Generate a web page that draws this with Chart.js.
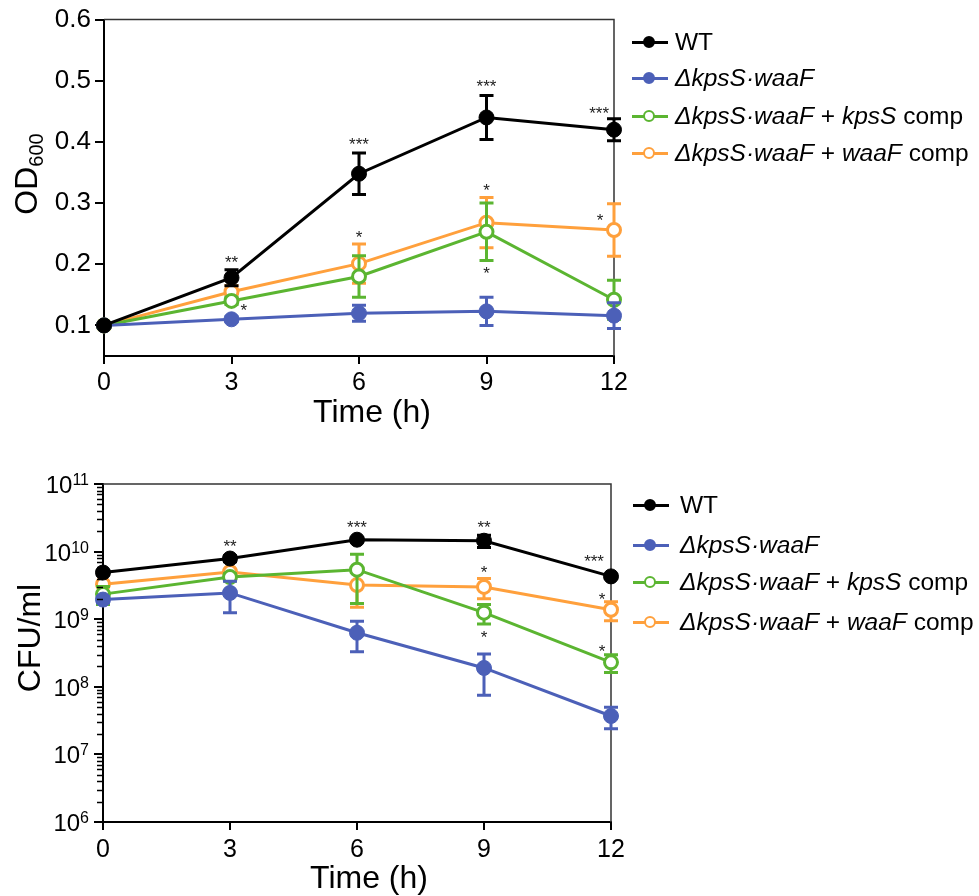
<!DOCTYPE html>
<html>
<head>
<meta charset="utf-8">
<script src="https://cdn.jsdelivr.net/npm/chart.js@4.4.0/dist/chart.umd.min.js"></script>
<style>
  body { margin: 0; background: #fff; width: 979px; height: 896px; overflow: hidden; position: relative;
         font-family: "Liberation Sans", Arial, sans-serif; }
  .box { position: absolute; left: 0; width: 640px; }
  .row { position: absolute; white-space: nowrap; font-size: 24.5px; line-height: 30px; height: 30px; color: #000; }
  .sw { position: absolute; left: 0; top: 8px; width: 36px; height: 14px; }
  .sw::before { content: ''; position: absolute; left: 0; right: 0; top: 5.5px; height: 3px; background: var(--c); }
  .sw::after { content: ''; position: absolute; left: 11px; top: 0.5px; width: 8px; height: 8px;
               border: 2.5px solid var(--c); border-radius: 50%; background: var(--f); }
  .txt { position: absolute; top: 0; }
</style>
</head>
<body>
<div class="box" style="top:0;height:440px"><canvas id="odChart" width="640" height="440"></canvas></div>
<div class="box" style="top:460px;height:436px"><canvas id="cfuChart" width="640" height="436"></canvas></div>
<div id="legends"></div>
<script>
// ---- data ----
const time = [0, 3, 6, 9, 12];
const xTicks = [0, 3, 6, 9, 12];
const odTicks = [0.1, 0.2, 0.3, 0.4, 0.5, 0.6];
const cfuTicks = [1e6, 1e7, 1e8, 1e9, 1e10, 1e11];

const odWT = [0.100, 0.178, 0.348, 0.440, 0.420];
const odWTsd = [0, 0.013, 0.034, 0.036, 0.018];
const odDKW = [0.100, 0.110, 0.120, 0.123, 0.116];
const odDKWsd = [0, 0.004, 0.013, 0.023, 0.021];
const odKps = [0.100, 0.140, 0.180, 0.253, 0.142];
const odKpssd = [0, 0.006, 0.034, 0.047, 0.032];
const odWaa = [0.100, 0.155, 0.201, 0.268, 0.256];
const odWaasd = [0, 0.010, 0.032, 0.041, 0.043];

const cfuWT = [4.9e9, 7.9e9, 1.5e10, 1.45e10, 4.3e9];
const cfuWTsd = [0.4e9, 0.8e9, 1.0e9, 3.0e9, 0.3e9];
const cfuDKW = [1.95e9, 2.45e9, 6.3e8, 1.9e8, 3.7e7];
const cfuDKWsd = [0.2e9, 1.2e9, 3.0e8, 1.15e8, 1.3e7];
const cfuKps = [2.35e9, 4.2e9, 5.4e9, 1.25e9, 2.3e8];
const cfuKpssd = [0.7e9, 0.5e9, 3.7e9, 0.4e9, 0.67e8];
const cfuWaa = [3.3e9, 5.0e9, 3.2e9, 3.0e9, 1.38e9];
const cfuWaasd = [0.3e9, 0.5e9, 1.7e9, 1.0e9, 0.43e9];

// significance marks: [time, value, text]
const odStars = [[3, 0.21, '**'], [3.29, 0.131, '*'], [6, 0.402, '***'], [6, 0.251, '*'],
                 [9, 0.498, '***'], [9, 0.327, '*'], [9, 0.191, '*'], [11.65, 0.454, '***'], [11.67, 0.279, '*']];
const cfuStars = [[3, 1.35e10, '**'], [6, 2.6e10, '***'], [9, 2.6e10, '**'], [9, 5.6e9, '*'], [9, 6.2e8, '*'],
                  [11.6, 8.1e9, '***'], [11.79, 2.24e9, '*'], [11.79, 3.8e8, '*']];

const names = ['WT', 'ΔkpsS·waaF', 'ΔkpsS·waaF + kpsS comp', 'ΔkpsS·waaF + waaF comp'];
const colors = ['#000000', '#4C60B8', '#5BB531', '#FFA03C'];
const filled = [true, true, false, false];

const FONT = '"Liberation Sans", Arial, sans-serif';

function ds(i, vals, errs) {
  return {
    label: names[i],
    data: time.map((t, k) => ({ x: t, y: vals[k] })),
    errors: errs,
    borderColor: colors[i],
    backgroundColor: colors[i],
    pointBackgroundColor: filled[i] ? colors[i] : '#fff',
    pointBorderColor: colors[i],
    pointRadius: filled[i] ? 7.5 : 6.5,
    pointBorderWidth: filled[i] ? 1 : 3,
    borderWidth: 3,
    tension: 0,
    clip: false
  };
}

const errorBars = {
  id: 'errorBars',
  beforeDatasetDraw(chart, args) {
    const set = chart.data.datasets[args.index];
    if (!set.errors) return;
    const ys = chart.scales.y, ctx = chart.ctx;
    ctx.save();
    ctx.strokeStyle = set.borderColor;
    ctx.lineWidth = 3;
    args.meta.data.forEach((pt, i) => {
      const e = set.errors[i];
      if (!e) return;
      const v = set.data[i].y;
      const top = ys.getPixelForValue(v + e);
      const bot = ys.getPixelForValue(Math.max(v - e, ys.min));
      ctx.beginPath();
      ctx.moveTo(pt.x, top); ctx.lineTo(pt.x, bot);
      ctx.moveTo(pt.x - 7, top); ctx.lineTo(pt.x + 7, top);
      ctx.moveTo(pt.x - 7, bot); ctx.lineTo(pt.x + 7, bot);
      ctx.stroke();
    });
    ctx.restore();
  }
};

// top/right frame, drawn under the data
const frame = {
  id: 'frame',
  beforeDatasetsDraw(chart) {
    const { ctx, chartArea: a } = chart;
    ctx.save();
    ctx.strokeStyle = '#333';
    ctx.lineWidth = 1.5;
    ctx.beginPath();
    ctx.moveTo(a.left, a.top); ctx.lineTo(a.right, a.top); ctx.lineTo(a.right, a.bottom);
    ctx.stroke();
    ctx.restore();
  }
};

const stars = {
  id: 'stars',
  afterDatasetsDraw(chart, args, opts) {
    const { ctx, scales: { x, y } } = chart;
    ctx.save();
    ctx.font = '17px ' + FONT;
    ctx.fillStyle = '#222';
    ctx.textAlign = 'center';
    ctx.textBaseline = 'alphabetic';
    (opts.items || []).forEach(s => {
      ctx.fillText(s[2], x.getPixelForValue(s[0]), y.getPixelForValue(s[1]) + 17 * 0.57);
    });
    ctx.restore();
  }
};

// axis titles (x title + rotated y title with sub/superscript parts)
const titles = {
  id: 'titles',
  afterDraw(chart, args, o) {
    const ctx = chart.ctx;
    ctx.save();
    ctx.fillStyle = '#000';
    ctx.textBaseline = 'alphabetic';
    ctx.font = '32px ' + FONT;
    ctx.textAlign = 'center';
    ctx.fillText(o.xText, o.xCx, o.xBase);
    // y title, rotated
    ctx.translate(o.yCx, o.yCy);
    ctx.rotate(-Math.PI / 2);
    ctx.textAlign = 'left';
    let w = 0;
    o.yParts.forEach(p => { ctx.font = p.size + 'px ' + FONT; w += ctx.measureText(p.t).width; });
    let u = -w / 2;
    o.yParts.forEach(p => {
      ctx.font = p.size + 'px ' + FONT;
      ctx.fillText(p.t, u, 11.5 + (p.dy || 0));
      u += ctx.measureText(p.t).width;
    });
    ctx.restore();
  }
};

// log axis: minor ticks and 10^n labels
const logAxis = {
  id: 'logAxis',
  afterDraw(chart) {
    const ys = chart.scales.y, ctx = chart.ctx, left = chart.chartArea.left;
    ctx.save();
    ctx.strokeStyle = '#000';
    ctx.lineWidth = 1.3;
    ctx.beginPath();
    for (let n = 6; n < 11; n++) {
      for (let k = 2; k <= 9; k++) {
        const py = Math.round(ys.getPixelForValue(k * Math.pow(10, n))) + 0.5;
        ctx.moveTo(left - 6, py); ctx.lineTo(left, py);
      }
    }
    ctx.stroke();
    ctx.fillStyle = '#000';
    ctx.textAlign = 'left';
    ctx.textBaseline = 'alphabetic';
    cfuTicks.forEach(v => {
      const py = ys.getPixelForValue(v);
      const exp = String(Math.round(Math.log10(v)));
      ctx.font = '16px ' + FONT;
      const sw = ctx.measureText(exp).width;
      ctx.font = '24px ' + FONT;
      const tw = ctx.measureText('10').width;
      const xr = left - 14;
      ctx.fillText('10', xr - sw - tw, py + 9);
      ctx.font = '16px ' + FONT;
      ctx.fillText(exp, xr - sw, py + 1);
    });
    ctx.restore();
  }
};

function xScale(h, pad) {
  return {
    type: 'linear', min: 0, max: 12,
    afterBuildTicks: s => { s.ticks = xTicks.map(v => ({ value: v })); },
    ticks: { font: { size: 25, family: FONT }, color: '#000', padding: pad, maxRotation: 0 },
    grid: { drawOnChartArea: false, drawTicks: true, tickLength: 8, color: '#000', lineWidth: 2 },
    border: { color: '#000', width: 2 },
    afterFit: s => { s.height = h; }
  };
}

new Chart(document.getElementById('odChart'), {
  type: 'line',
  data: { datasets: [ds(0, odWT, odWTsd), ds(1, odDKW, odDKWsd), ds(2, odKps, odKpssd), ds(3, odWaa, odWaasd)] },
  options: {
    responsive: false, animation: false, devicePixelRatio: 1,
    layout: { padding: { top: 17, right: 26, left: 0, bottom: 0 } },
    scales: {
      x: xScale(84, 4),
      y: {
        type: 'linear', min: 0.05, max: 0.6,
        afterBuildTicks: s => { s.ticks = odTicks.map(v => ({ value: v })); },
        ticks: { font: { size: 26, family: FONT }, color: '#000', padding: 4, callback: v => v.toFixed(1) },
        grid: { drawOnChartArea: false, drawTicks: true, tickLength: 9, color: '#000', lineWidth: 2 },
        border: { color: '#000', width: 2 },
        afterFit: s => { s.width = 104; }
      }
    },
    plugins: {
      legend: { display: false }, tooltip: { enabled: false },
      stars: { items: odStars },
      titles: { xText: 'Time (h)', xCx: 372, xBase: 421.5, yCx: 25, yCy: 174,
                yParts: [{ t: 'OD', size: 32 }, { t: '600', size: 20, dy: 6 }] }
    }
  },
  plugins: [frame, errorBars, stars, titles]
});

new Chart(document.getElementById('cfuChart'), {
  type: 'line',
  data: { datasets: [ds(0, cfuWT, cfuWTsd), ds(1, cfuDKW, cfuDKWsd), ds(2, cfuKps, cfuKpssd), ds(3, cfuWaa, cfuWaasd)] },
  options: {
    responsive: false, animation: false, devicePixelRatio: 1,
    layout: { padding: { top: 24, right: 29, left: 0, bottom: 0 } },
    scales: {
      x: xScale(74, 5),
      y: {
        type: 'logarithmic', min: 1e6, max: 1e11,
        afterBuildTicks: s => { s.ticks = cfuTicks.map(v => ({ value: v })); },
        ticks: { display: false },
        grid: { drawOnChartArea: false, drawTicks: true, tickLength: 9, color: '#000', lineWidth: 2 },
        border: { color: '#000', width: 2 },
        afterFit: s => { s.width = 103; }
      }
    },
    plugins: {
      legend: { display: false }, tooltip: { enabled: false },
      stars: { items: cfuStars },
      titles: { xText: 'Time (h)', xCx: 369, xBase: 428, yCx: 28, yCy: 178,
                yParts: [{ t: 'CFU/ml', size: 32 }] }
    }
  },
  plugins: [frame, errorBars, stars, titles, logAxis]
});

// HTML legends (mixed italic text)
function legendHtml(text) {
  return text.replace(/(ΔkpsS·waaF)/, '<i>$1</i>').replace(/\+ (kpsS|waaF) comp/, '+ <i>$1</i> comp');
}
function buildLegend(rowsY, swX, txtX) {
  const root = document.getElementById('legends');
  names.forEach((n, i) => {
    const row = document.createElement('div');
    row.className = 'row';
    row.style.left = swX + 'px';
    row.style.top = (rowsY[i] - 15) + 'px';
    row.innerHTML = '<span class="sw" style="--c:' + colors[i] + ';--f:' + (filled[i] ? colors[i] : '#fff') + '"></span>' +
      '<span class="txt" style="left:' + (txtX - swX) + 'px">' + legendHtml(n) + '</span>';
    root.appendChild(row);
  });
}
buildLegend([42, 78, 116, 153], 632, 675);
buildLegend([505, 545, 582, 622], 633, 680);
</script>
</body>
</html>
